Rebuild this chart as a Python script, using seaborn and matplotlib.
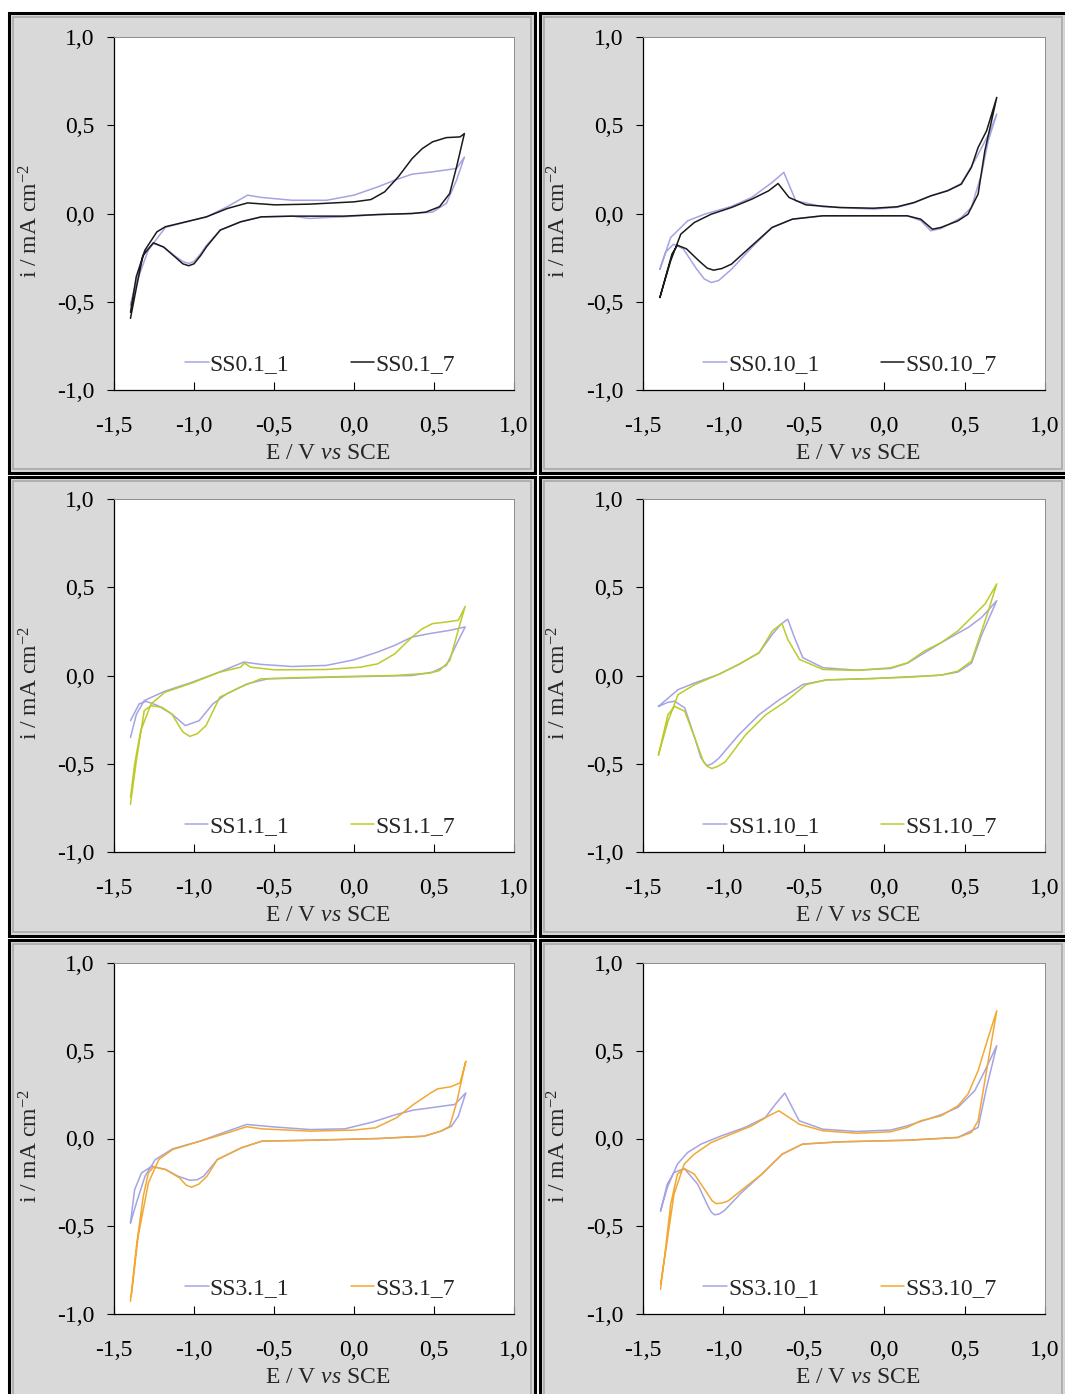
import matplotlib
matplotlib.use('Agg')
import matplotlib.pyplot as plt
import matplotlib.ticker as mticker
from matplotlib.patches import Rectangle
import pandas as pd
import seaborn as sns

# ---- data (E / V vs SCE, i / mA cm-2) ----
# SS0.1
e_ss01_1 = [-1.397, -1.36, -1.31, -1.254, -1.19, -1.12, -1.07, -1.033, -1.0, -0.96, -0.922, -0.836, -0.708,
            -0.579, -0.386, -0.278, -0.15, -0.065, 0.149, 0.363, 0.491, 0.577, 0.641, 0.69,
            0.641, 0.491, 0.363, 0.256, 0.149, 0.0, -0.171, -0.386, -0.579, -0.665, -0.793, -0.922,
            -1.072, -1.179, -1.286, -1.361, -1.397]
i_ss01_1 = [-0.519, -0.38, -0.22, -0.17, -0.19, -0.24, -0.272, -0.283, -0.272, -0.23, -0.18, -0.094, -0.047,
            -0.019, -0.015, -0.028, -0.022, -0.019, -0.006, 0.0, 0.008, 0.057, 0.189, 0.32,
            0.255, 0.236, 0.223, 0.189, 0.151, 0.104, 0.075, 0.075, 0.091, 0.104, 0.038, -0.019,
            -0.053, -0.079, -0.208, -0.396, -0.519]
e_ss01_7 = [-1.397, -1.36, -1.32, -1.254, -1.19, -1.12, -1.07, -1.033, -1.0, -0.96, -0.922, -0.836, -0.708,
            -0.579, -0.386, -0.065, 0.149, 0.363, 0.449, 0.534, 0.598, 0.641, 0.69,
            0.663, 0.577, 0.491, 0.427, 0.363, 0.277, 0.192, 0.106, 0.0, -0.278, -0.494, -0.665,
            -0.793, -0.922, -1.05, -1.179, -1.232, -1.307, -1.361, -1.397]
i_ss01_7 = [-0.594, -0.42, -0.24, -0.166, -0.19, -0.245, -0.285, -0.296, -0.285, -0.24, -0.189, -0.094, -0.047,
            -0.019, -0.015, -0.015, -0.006, 0.0, 0.008, 0.038, 0.113, 0.264, 0.453,
            0.434, 0.43, 0.406, 0.368, 0.311, 0.208, 0.123, 0.079, 0.066, 0.053, 0.049, 0.06,
            0.028, -0.019, -0.047, -0.075, -0.104, -0.208, -0.358, -0.56]

# SS0.10
e_ss010_1 = [-1.395, -1.36, -1.31, -1.25, -1.17, -1.12, -1.076, -1.03, -0.95, -0.824, -0.697, -0.571,
             -0.382, -0.067, 0.143, 0.227, 0.29, 0.353, 0.479, 0.542, 0.605, 0.647, 0.7,
             0.65, 0.563, 0.479, 0.395, 0.29, 0.185, 0.08, -0.067, -0.382, -0.55, -0.624, -0.697,
             -0.824, -0.95, -1.118, -1.223, -1.328, -1.395]
i_ss010_1 = [-0.316, -0.22, -0.174, -0.2, -0.31, -0.37, -0.391, -0.38, -0.316, -0.193, -0.079, -0.032,
             -0.013, -0.013, -0.013, -0.04, -0.098, -0.085, -0.023, 0.034, 0.223, 0.412, 0.563,
             0.45, 0.299, 0.17, 0.13, 0.1, 0.06, 0.035, 0.025, 0.038, 0.072, 0.233, 0.176,
             0.091, 0.04, -0.004, -0.042, -0.136, -0.316]
e_ss010_7 = [-1.395, -1.36, -1.32, -1.286, -1.23, -1.15, -1.10, -1.061, -1.01, -0.95, -0.824, -0.697,
             -0.571, -0.382, -0.067, 0.143, 0.227, 0.3, 0.353, 0.458, 0.521, 0.584, 0.626, 0.7,
             0.637, 0.584, 0.542, 0.479, 0.395, 0.29, 0.185, 0.08, -0.067, -0.277, -0.487, -0.592,
             -0.66, -0.718, -0.824, -0.95, -1.076, -1.181, -1.265, -1.328, -1.395]
i_ss010_7 = [-0.476, -0.36, -0.23, -0.18, -0.2, -0.27, -0.31, -0.321, -0.312, -0.287, -0.183, -0.079,
             -0.032, -0.013, -0.013, -0.013, -0.032, -0.089, -0.079, -0.042, -0.004, 0.11, 0.355, 0.658,
             0.469, 0.374, 0.261, 0.166, 0.129, 0.1, 0.062, 0.038, 0.03, 0.034, 0.049, 0.091,
             0.17, 0.129, 0.081, 0.034, -0.004, -0.051, -0.117, -0.268, -0.476]

# SS1.1
e_ss11_1 = [-1.397, -1.343, -1.3, -1.225, -1.139, -1.054, -0.968, -0.882, -0.796, -0.667, -0.539, -0.281,
            0.041, 0.363, 0.491, 0.577, 0.642, 0.695,
            0.599, 0.47, 0.363, 0.255, 0.148, 0.0, -0.174, -0.388, -0.582, -0.689, -0.818, -1.011,
            -1.182, -1.311, -1.36, -1.397]
i_ss11_1 = [-0.256, -0.161, -0.146, -0.171, -0.218, -0.284, -0.256, -0.161, -0.104, -0.047, -0.019, -0.013,
            -0.006, 0.0, 0.019, 0.057, 0.18, 0.275,
            0.256, 0.237, 0.218, 0.171, 0.133, 0.089, 0.057, 0.051, 0.063, 0.076, 0.028, -0.038,
            -0.089, -0.142, -0.22, -0.351]
e_ss11_7 = [-1.397, -1.36, -1.311, -1.268, -1.2, -1.139, -1.07, -1.026, -0.98, -0.925, -0.839, -0.71,
            -0.582, -0.388, -0.067, 0.255, 0.47, 0.534, 0.599, 0.663, 0.695,
            0.652, 0.577, 0.491, 0.427, 0.363, 0.255, 0.148, 0.041, -0.174, -0.496, -0.646, -0.685,
            -0.71, -0.839, -1.011, -1.182, -1.268, -1.333, -1.371, -1.397]
i_ss11_7 = [-0.73, -0.48, -0.199, -0.171, -0.18, -0.218, -0.32, -0.345, -0.33, -0.284, -0.123, -0.066,
            -0.019, -0.013, -0.006, 0.0, 0.013, 0.028, 0.085, 0.294, 0.392,
            0.313, 0.303, 0.294, 0.265, 0.218, 0.123, 0.066, 0.047, 0.034, 0.032, 0.047, 0.07,
            0.047, 0.019, -0.042, -0.095, -0.161, -0.313, -0.502, -0.69]

# SS1.10
e_ss110_1 = [-1.404, -1.345, -1.303, -1.24, -1.177, -1.14, -1.104, -1.07, -1.03, -0.904, -0.778, -0.652,
             -0.506, -0.359, -0.065, 0.354, 0.459, 0.543, 0.606, 0.7,
             0.606, 0.522, 0.354, 0.145, 0.04, -0.17, -0.38, -0.506, -0.558, -0.6, -0.642, -0.695,
             -0.778, -0.904, -1.03, -1.177, -1.282, -1.404]
i_ss110_1 = [-0.175, -0.152, -0.146, -0.184, -0.356, -0.465, -0.511, -0.5, -0.47, -0.336, -0.222, -0.137,
             -0.051, -0.025, -0.017, 0.002, 0.02, 0.07, 0.23, 0.424,
             0.329, 0.272, 0.186, 0.07, 0.04, 0.03, 0.044, 0.101, 0.215, 0.319, 0.291, 0.234,
             0.129, 0.063, 0.006, -0.042, -0.08, -0.175]
e_ss110_7 = [-1.404, -1.345, -1.303, -1.24, -1.177, -1.124, -1.1, -1.072, -1.035, -0.988, -0.862, -0.736,
             -0.611, -0.485, -0.359, -0.065, 0.145, 0.354, 0.459, 0.543, 0.606, 0.648, 0.7,
             0.627, 0.564, 0.459, 0.354, 0.25, 0.145, 0.04, -0.17, -0.38, -0.527, -0.6, -0.636,
             -0.695, -0.778, -0.904, -1.03, -1.177, -1.282, -1.345, -1.404]
i_ss110_7 = [-0.451, -0.222, -0.175, -0.203, -0.356, -0.489, -0.515, -0.527, -0.515, -0.489, -0.336, -0.222,
             -0.146, -0.051, -0.025, -0.017, -0.01, 0.002, 0.025, 0.082, 0.253, 0.367, 0.519,
             0.405, 0.348, 0.253, 0.186, 0.139, 0.072, 0.044, 0.029, 0.034, 0.091, 0.205, 0.295,
             0.253, 0.129, 0.063, 0.006, -0.051, -0.108, -0.26, -0.451]

# SS3.1
e_ss31_1 = [-1.397, -1.371, -1.328, -1.263, -1.177, -1.1, -1.027, -0.98, -0.94, -0.854, -0.704, -0.575,
            -0.273, 0.157, 0.437, 0.544, 0.609, 0.652, 0.699,
            0.63, 0.48, 0.372, 0.265, 0.114, -0.058, -0.273, -0.488, -0.671, -0.79, -0.962, -1.134,
            -1.242, -1.306, -1.36, -1.397]
i_ss31_1 = [-0.481, -0.291, -0.196, -0.158, -0.177, -0.215, -0.238, -0.235, -0.215, -0.12, -0.053, -0.015,
            -0.01, 0.0, 0.013, 0.042, 0.07, 0.127, 0.26,
            0.194, 0.175, 0.162, 0.137, 0.093, 0.055, 0.051, 0.065, 0.08, 0.042, -0.015, -0.059,
            -0.12, -0.215, -0.367, -0.481]
e_ss31_7 = [-1.397, -1.36, -1.317, -1.285, -1.253, -1.177, -1.091, -1.05, -1.016, -0.97, -0.919, -0.854,
            -0.704, -0.575, -0.273, 0.157, 0.437, 0.544, 0.598, 0.641, 0.699,
            0.663, 0.605, 0.523, 0.48, 0.372, 0.265, 0.135, 0.0, -0.273, -0.575, -0.671, -0.79,
            -0.962, -1.134, -1.22, -1.285, -1.349, -1.392]
i_ss31_7 = [-0.928, -0.614, -0.329, -0.196, -0.162, -0.177, -0.224, -0.265, -0.278, -0.26, -0.215, -0.12,
            -0.053, -0.015, -0.01, 0.0, 0.013, 0.042, 0.07, 0.203, 0.441,
            0.317, 0.295, 0.283, 0.26, 0.194, 0.118, 0.061, 0.048, 0.042, 0.055, 0.067, 0.032,
            -0.015, -0.063, -0.12, -0.253, -0.557, -0.899]

# SS3.10
e_ss310_1 = [-1.391, -1.349, -1.307, -1.244, -1.16, -1.097, -1.075, -1.055, -1.025, -0.992, -0.887, -0.761,
             -0.634, -0.508, -0.277, 0.143, 0.458, 0.584, 0.637, 0.7,
             0.626, 0.563, 0.458, 0.353, 0.143, 0.038, -0.172, -0.382, -0.529, -0.618, -0.676, -0.739,
             -0.866, -1.013, -1.139, -1.223, -1.286, -1.349, -1.391]
i_ss310_1 = [-0.413, -0.26, -0.194, -0.171, -0.26, -0.384, -0.42, -0.435, -0.43, -0.409, -0.308, -0.203,
             -0.089, -0.032, -0.019, -0.01, 0.006, 0.063, 0.291, 0.529,
             0.386, 0.272, 0.177, 0.135, 0.072, 0.048, 0.04, 0.053, 0.101, 0.259, 0.196, 0.12,
             0.063, 0.015, -0.032, -0.08, -0.146, -0.279, -0.413]
e_ss310_7 = [-1.391, -1.359, -1.328, -1.286, -1.244, -1.181, -1.097, -1.07, -1.044, -1.01, -0.971, -0.866,
             -0.761, -0.634, -0.508, -0.277, 0.143, 0.458, 0.542, 0.584, 0.626, 0.7,
             0.647, 0.584, 0.521, 0.458, 0.353, 0.227, 0.143, 0.038, -0.172, -0.382, -0.529, -0.655,
             -0.719, -0.824, -0.95, -1.076, -1.181, -1.244, -1.307, -1.359, -1.391]
i_ss310_7 = [-0.859, -0.622, -0.375, -0.203, -0.171, -0.203, -0.317, -0.355, -0.371, -0.368, -0.356, -0.279,
             -0.203, -0.089, -0.032, -0.019, -0.01, 0.006, 0.034, 0.101, 0.329, 0.728,
             0.576, 0.386, 0.253, 0.186, 0.129, 0.101, 0.063, 0.038, 0.03, 0.044, 0.082, 0.158,
             0.129, 0.072, 0.025, -0.023, -0.089, -0.146, -0.317, -0.641, -0.831]

labels = [("SS0.1_1", "SS0.1_7"), ("SS0.10_1", "SS0.10_7"),
          ("SS1.1_1", "SS1.1_7"), ("SS1.10_1", "SS1.10_7"),
          ("SS3.1_1", "SS3.1_7"), ("SS3.10_1", "SS3.10_7")]
series = [(e_ss01_1, i_ss01_1, e_ss01_7, i_ss01_7),
          (e_ss010_1, i_ss010_1, e_ss010_7, i_ss010_7),
          (e_ss11_1, i_ss11_1, e_ss11_7, i_ss11_7),
          (e_ss110_1, i_ss110_1, e_ss110_7, i_ss110_7),
          (e_ss31_1, i_ss31_1, e_ss31_7, i_ss31_7),
          (e_ss310_1, i_ss310_1, e_ss310_7, i_ss310_7)]
c_first = '#a4a4e4'
c_last = ['#1a1a1a', '#1a1a1a', '#bccb2a', '#bccb2a', '#f2a833', '#f2a833']

sns.set_theme(style='white')
plt.rcParams['font.family'] = ['Liberation Serif', 'DejaVu Serif']
plt.rcParams['mathtext.fontset'] = 'custom'
plt.rcParams['mathtext.rm'] = 'Liberation Serif'
plt.rcParams['mathtext.it'] = 'Liberation Serif:italic'
FS = 17

W, H = 1065, 1394
fig = plt.figure(figsize=(W / 100, H / 100), dpi=100)
fig.patch.set_facecolor('white')

cols_frame = [(9, 535), (540, 1066)]
rows_frame = [(13, 473), (477, 936), (940, 1400)]
cols_ax = [(114, 400), (643, 402)]
rows_ax = [(37, 353), (499, 353), (963, 351)]

def comma(v, pos):
    return f'{v:.1f}'.replace('.', ',')

for k in range(6):
    r, c = divmod(k, 2)
    # grey panel with black border
    x0, x1 = cols_frame[c]
    y0, y1 = rows_frame[r]
    fig.add_artist(Rectangle((x0 / W, 1 - y1 / H), (x1 - x0) / W, (y1 - y0) / H,
                             transform=fig.transFigure, facecolor='#d9d9d9',
                             edgecolor='black', lw=2.2, zorder=-2))
    fig.add_artist(Rectangle(((x0 + 4) / W, 1 - (y1 - 4) / H), (x1 - x0 - 8) / W, (y1 - y0 - 8) / H,
                             transform=fig.transFigure, facecolor='none',
                             edgecolor='#a8a8a8', lw=1.2, zorder=-1))

    left, wd = cols_ax[c]
    top, ht = rows_ax[r]
    ax = fig.add_axes([left / W, 1 - (top + ht) / H, wd / W, ht / H])
    ax.set_facecolor('white')

    e1, i1, e7, i7 = series[k]
    l1, l7 = labels[k]
    df = pd.concat([pd.DataFrame({'E': e1, 'i': i1, 'sample': l1}),
                    pd.DataFrame({'E': e7, 'i': i7, 'sample': l7})], ignore_index=True)
    sns.lineplot(data=df, x='E', y='i', hue='sample', sort=False, estimator=None,
                 palette={l1: c_first, l7: c_last[k]}, lw=1.1, ax=ax)

    ax.set_xlim(-1.5, 1.0)
    ax.set_ylim(-1.0, 1.0)
    ax.xaxis.set_major_locator(mticker.MultipleLocator(0.5))
    ax.yaxis.set_major_locator(mticker.MultipleLocator(0.5))
    ax.xaxis.set_major_formatter(mticker.FuncFormatter(comma))
    ax.yaxis.set_major_formatter(mticker.FuncFormatter(comma))
    ax.tick_params(axis='x', direction='in', length=6, width=0.8, pad=19,
                   labelsize=FS, colors='black', bottom=True)
    ax.tick_params(axis='y', direction='out', length=5, width=0.8, pad=9,
                   labelsize=FS, colors='black', left=True)
    for s in ['left', 'bottom']:
        ax.spines[s].set_color('black')
        ax.spines[s].set_linewidth(0.9)
    for s in ['top', 'right']:
        ax.spines[s].set_color('#8c8c8c')
        ax.spines[s].set_linewidth(0.7)

    ax.set_xlabel(r'E / V $\mathit{vs}$ SCE', fontsize=FS)
    ax.set_ylabel(r'i / mA cm$^{-2}$', fontsize=FS)
    ax.xaxis.set_label_coords(0.535, -0.15)
    ax.yaxis.set_label_coords(-0.18, 0.48)

    sns.move_legend(ax, loc='center', bbox_to_anchor=(0.515, 0.072), ncol=2,
                    frameon=False, title=None, fontsize=FS, handlelength=1.0,
                    handletextpad=0.05, columnspacing=2.6)

plt.savefig('out.png', dpi=100)
